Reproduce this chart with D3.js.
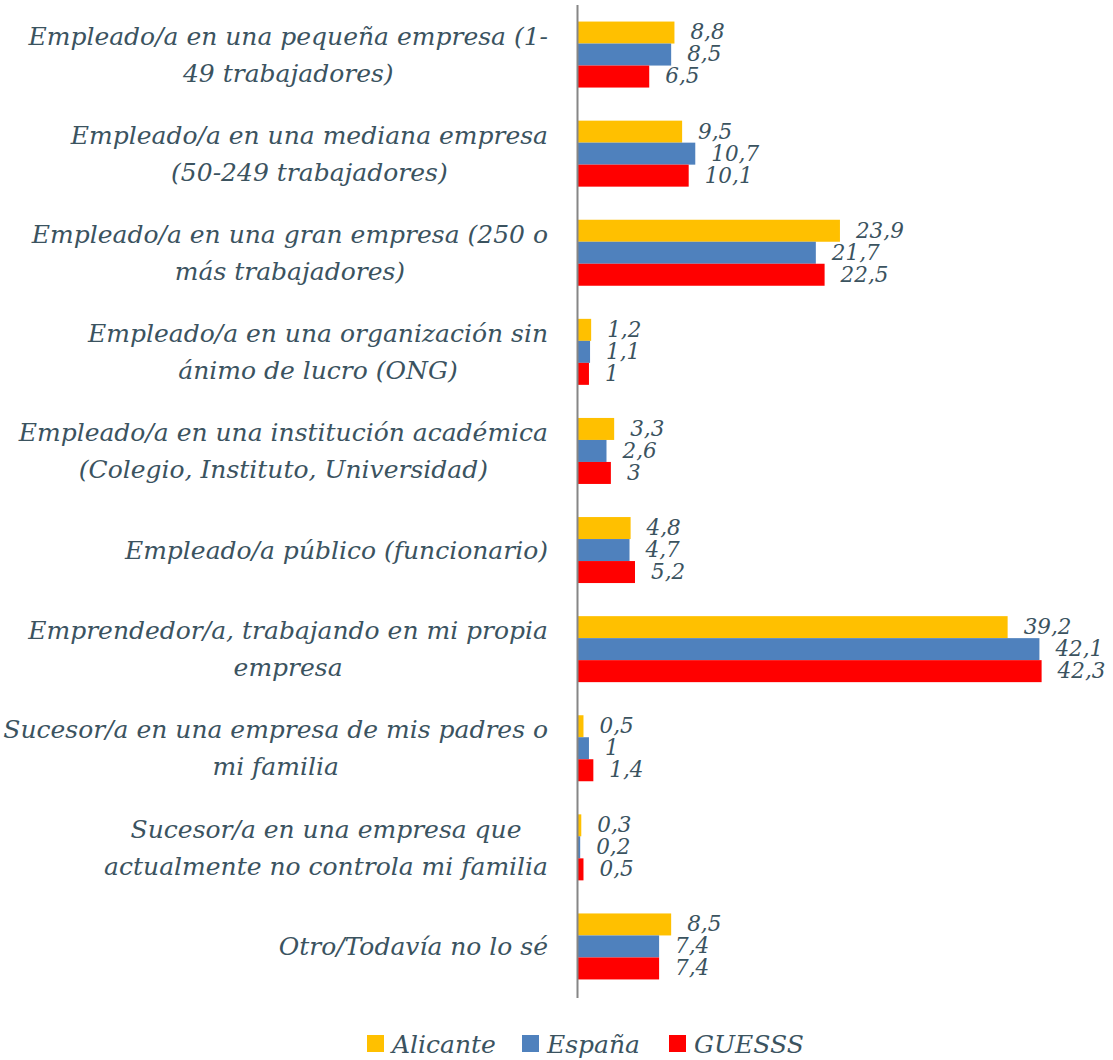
<!DOCTYPE html>
<html>
<head>
<meta charset="utf-8">
<script src="https://cdn.jsdelivr.net/npm/d3@7"></script>
<style>
body{margin:0;background:#fff;}
text{font-family:"DejaVu Serif",serif;font-style:italic;fill:#3b535f;}
</style>
</head>
<body>
<svg id="chart" width="1113" height="1060"></svg>
<script>
// datos
let categories=[
    ["Empleado/a en una pequeña empresa (1-","49 trabajadores)"],
    ["Empleado/a en una mediana empresa","(50-249 trabajadores)"],
    ["Empleado/a en una gran empresa (250 o","más trabajadores)"],
    ["Empleado/a en una organización sin","ánimo de lucro (ONG)"],
    ["Empleado/a en una institución académica","(Colegio, Instituto, Universidad)"],
    ["Empleado/a público (funcionario)"],
    ["Emprendedor/a, trabajando en mi propia","empresa"],
    ["Sucesor/a en una empresa de mis padres o","mi familia"],
    ["Sucesor/a en una empresa que","actualmente no controla mi familia"],
    ["Otro/Todavía no lo sé"]
];
let series=["Alicante","España","GUESSS"];
let colors=["#ffc000","#4f81bd","#ff0000"];
let alicante=[8.8,9.5,23.9,1.2,3.3,4.8,39.2,0.5,0.3,8.5];
let espana=[8.5,10.7,21.7,1.1,2.6,4.7,42.1,1,0.2,7.4];
let guesss=[6.5,10.1,22.5,1,3,5.2,42.3,1.4,0.5,7.4];
let values=[alicante,espana,guesss];

let svg=d3.select("#chart");
let x0=578;
let x=d3.scaleLinear().domain([0,45]).range([x0,x0+45*10.96]);
let y=d3.scaleBand().domain(d3.range(categories.length)).range([5,996]).paddingInner(0.334).paddingOuter(0.167);
let ys=d3.scaleBand().domain(d3.range(series.length)).range([0,y.bandwidth()]);
let fmt=v=>String(v).replace(".",",");

//grupos
let groups=svg.selectAll("g.cat")
    .data(categories)
    .enter()
    .append("g")
    .attr("class","cat")
    .attr("transform",(d,i)=>"translate(0,"+y(i)+")");

groups.each(function(d,i){
    let g=d3.select(this);
    series.forEach(function(s,j){
        let v=values[j][i];
        g.append("rect")
            .attr("x",x(0))
            .attr("y",ys(j))
            .attr("width",x(v)-x(0))
            .attr("height",ys.bandwidth())
            .attr("fill",colors[j]);
        g.append("text")
            .attr("x",x(v)+16)
            .attr("y",ys(j)+ys.bandwidth()/2)
            .attr("dy","0.32em")
            .style("font-size","21.5px")
            .text(fmt(v));
    });
    //etiqueta: bloque alineado a la derecha, líneas centradas
    let n=d.length;
    let t=g.append("text")
        .attr("text-anchor","middle")
        .style("font-size","25px");
    let spans=d.map(function(line,k){
        return t.append("tspan")
            .attr("y",y.bandwidth()/2+(k-(n-1)/2)*37)
            .attr("dy","0.35em")
            .text(line);
    });
    let w=d3.max(spans,s=>s.node().getComputedTextLength());
    spans.forEach(s=>s.attr("x",548-w/2));
});

//eje
svg.append("line")
    .attr("x1",x0-0.5).attr("x2",x0-0.5)
    .attr("y1",5).attr("y2",998)
    .attr("stroke","#868686")
    .attr("stroke-width",2);

//leyenda
let legendX=[367,522,669];
let leg=svg.selectAll("g.leg")
    .data(series)
    .enter()
    .append("g")
    .attr("class","leg")
    .attr("transform",(d,i)=>"translate("+legendX[i]+",1035)");
leg.append("rect").attr("width",17).attr("height",17).attr("fill",(d,i)=>colors[i]);
leg.append("text")
    .attr("x",25)
    .attr("y",9)
    .attr("dy","0.35em")
    .style("font-size","25px")
    .text(d=>d);
</script>
</body>
</html>
